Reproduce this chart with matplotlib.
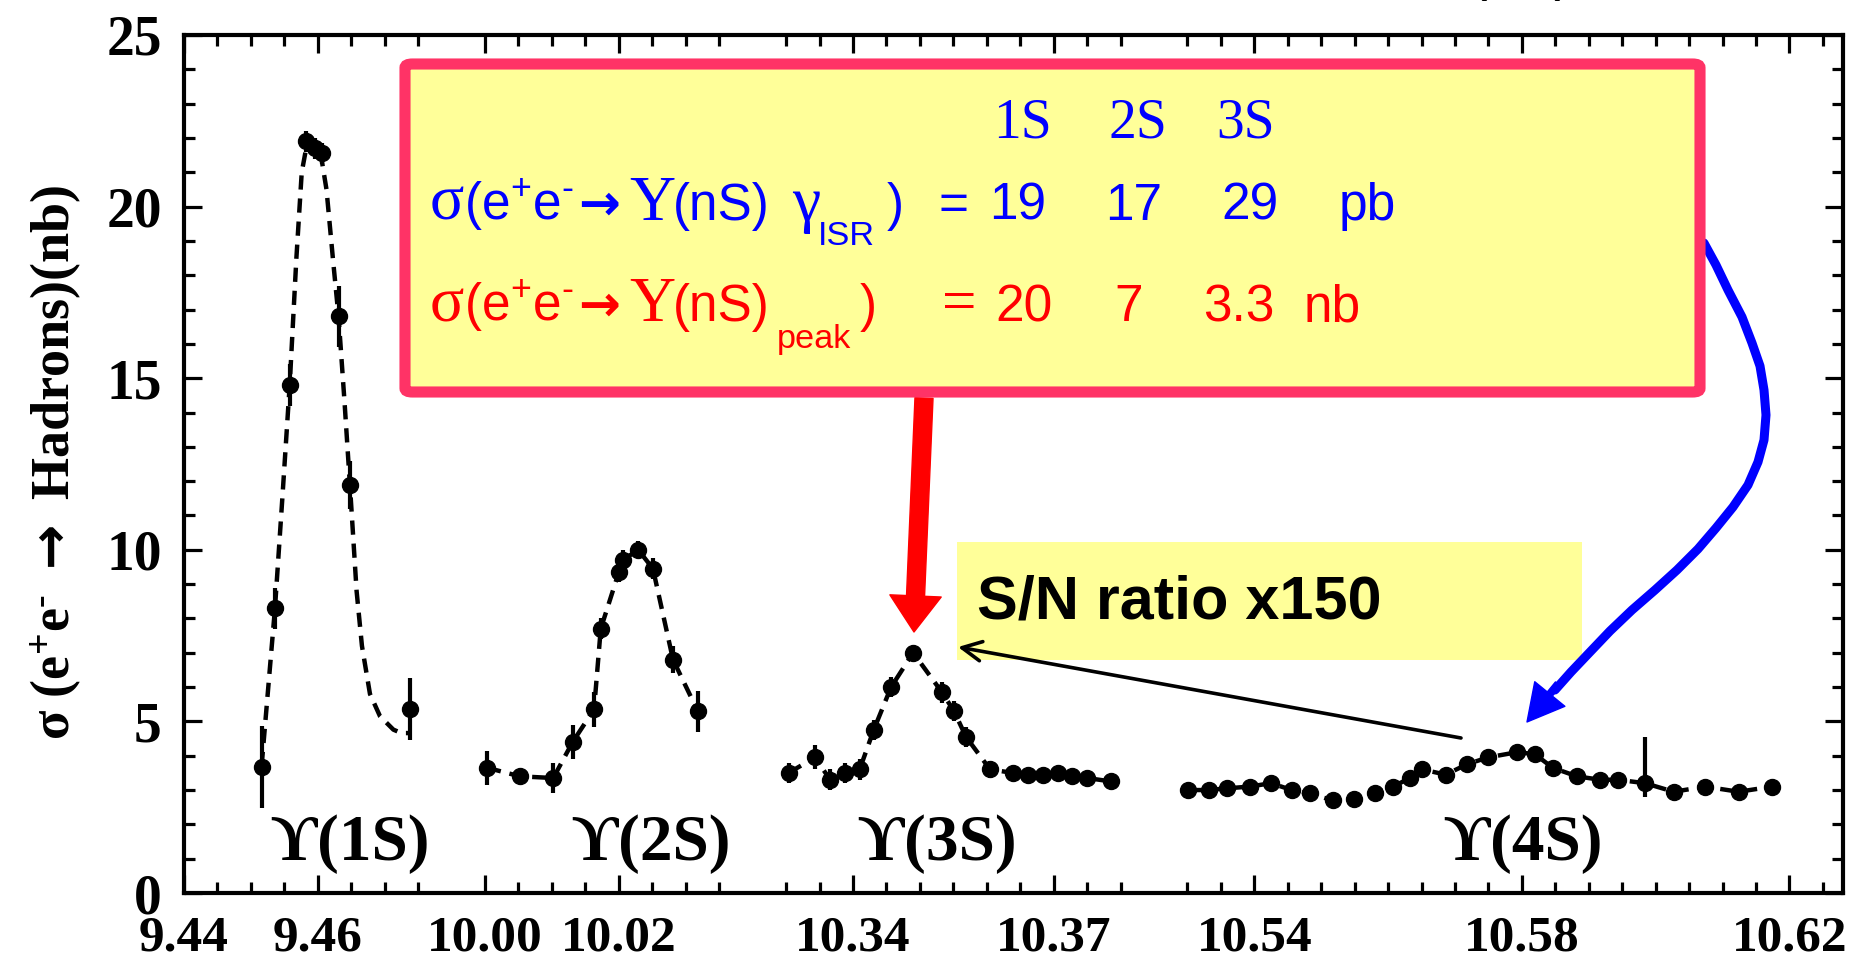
import numpy as np
import matplotlib
matplotlib.use('Agg')
import matplotlib.pyplot as plt
from matplotlib import font_manager
from matplotlib.patches import FancyBboxPatch, Rectangle, FancyArrowPatch, ArrowStyle
from matplotlib.lines import Line2D
from matplotlib.ticker import FixedLocator

# ---------------- data ----------------
# broken x axis: each resonance scan lives in its own energy window (GeV)
seg_shift = [0.0, 0.515, 0.80, 0.94]          # energy offset removed in each window
seg_lo = [9.44, 10.00, 10.33, 10.53]           # first minor tick of each window
seg_hi = [9.475, 10.035, 10.38, 10.625]        # last minor tick of each window

xtick_E = [9.44, 9.46, 10.00, 10.02, 10.34, 10.37, 10.54, 10.58, 10.62]
xtick_seg = [0, 0, 1, 1, 2, 2, 3, 3, 3]
xtick_labels = ['9.44', '9.46', '10.00', '10.02', '10.34', '10.37', '10.54', '10.58', '10.62']
ytick_vals = [0, 5, 10, 15, 20, 25]

# Y(1S)
E_1S = [9.4516, 9.4536, 9.4558, 9.4583, 9.4596, 9.4606, 9.4631, 9.4648, 9.4738]
s_1S = [3.68, 8.3, 14.8, 21.9, 21.7, 21.55, 16.8, 11.9, 5.36]
e_1S = [1.2, 0.6, 0.6, 0.3, 0.3, 0.3, 0.9, 0.7, 0.9]
fitE_1S = [9.4516, 9.4526, 9.4536, 9.4547, 9.4558, 9.4568, 9.4576, 9.4585, 9.4603,
           9.4613, 9.4623, 9.4631, 9.4640, 9.4648, 9.4658, 9.4666, 9.4678, 9.4693,
           9.4713, 9.4725, 9.4738]
fits_1S = [3.7, 6.0, 8.3, 11.5, 14.8, 18.5, 21.0, 21.95, 21.7,
           20.5, 18.4, 16.8, 14.3, 11.9, 8.8, 7.2, 5.8, 5.15,
           4.76, 4.66, 4.66]

# Y(2S)
E_2S = [10.0003, 10.0052, 10.0102, 10.0131, 10.0163, 10.0173, 10.0200, 10.0206,
        10.0229, 10.0251, 10.0281, 10.0318]
s_2S = [3.65, 3.4, 3.35, 4.4, 5.35, 7.7, 9.35, 9.7, 10.0, 9.45, 6.8, 5.3]
e_2S = [0.5, 0.15, 0.45, 0.5, 0.5, 0.3, 0.3, 0.3, 0.25, 0.3, 0.4, 0.6]

# Y(3S)
E_3S = [10.3304, 10.3343, 10.3366, 10.3388, 10.3410, 10.3431, 10.3457, 10.3490,
        10.3533, 10.3551, 10.3569, 10.3605, 10.3639, 10.3662, 10.3684, 10.3706,
        10.3727, 10.3750, 10.3786]
s_3S = [3.5, 3.95, 3.3, 3.5, 3.6, 4.75, 6.0, 7.0, 5.85, 5.3, 4.55, 3.6, 3.5,
        3.45, 3.45, 3.5, 3.4, 3.35, 3.25]
e_3S = [0.3, 0.35, 0.3, 0.3, 0.3, 0.3, 0.3, 0.2, 0.3, 0.3, 0.3, 0.25, 0.2,
        0.2, 0.2, 0.2, 0.2, 0.2, 0.2]

# Y(4S)
E_4S = [10.5301, 10.5332, 10.5359, 10.5393, 10.5425, 10.5456, 10.5483, 10.5517,
        10.5549, 10.5580, 10.5607, 10.5633, 10.5651, 10.5686, 10.5718, 10.5749,
        10.5792, 10.5819, 10.5846, 10.5882, 10.5917, 10.5943, 10.5984, 10.6027,
        10.6074, 10.6124, 10.6174]
s_4S = [3.0, 3.0, 3.05, 3.1, 3.2, 3.0, 2.9, 2.7, 2.75, 2.9, 3.1, 3.35, 3.6, 3.45,
        3.75, 3.95, 4.1, 4.05, 3.65, 3.4, 3.3, 3.3, 3.2, 2.95, 3.1, 2.95, 3.1]
elo_4S = [0.15, 0.15, 0.15, 0.15, 0.2, 0.15, 0.15, 0.2, 0.2, 0.2, 0.2, 0.2, 0.2, 0.2,
          0.2, 0.2, 0.2, 0.2, 0.2, 0.2, 0.2, 0.2, 0.4, 0.2, 0.2, 0.2, 0.2]
ehi_4S = [0.15, 0.15, 0.15, 0.15, 0.2, 0.15, 0.15, 0.2, 0.2, 0.2, 0.2, 0.2, 0.2, 0.2,
          0.2, 0.2, 0.2, 0.2, 0.2, 0.2, 0.2, 0.2, 1.35, 0.2, 0.2, 0.2, 0.2]

peak_names = ['ϒ(1S)', 'ϒ(2S)', 'ϒ(3S)', 'ϒ(4S)']
peak_label_E = [9.4648, 10.0248, 10.3526, 10.5801]

states = ['1S', '2S', '3S']
isr_values = ['19', '17', '29']
peak_values = ['20', '7', '3.3']

# ---------------- style ----------------
W, H = 1858, 960
names = {f.name for f in font_manager.fontManager.ttflist}
if 'Liberation Sans Narrow' in names:
    NARROW, NS = 'Liberation Sans Narrow', 1.0
else:
    NARROW, NS = 'Liberation Sans', 0.84
SERIF = ['Liberation Serif', 'DejaVu Serif']
SANS = [NARROW, 'Liberation Sans', 'DejaVu Sans']
plt.rcParams['font.family'] = SERIF
plt.rcParams['mathtext.default'] = 'regular'

fig = plt.figure(figsize=(W / 100, H / 100), dpi=100)
fig.patch.set_facecolor('white')
ax = fig.add_axes([184 / W, 1 - 893 / H, (1843 - 184) / W, (893 - 35) / H])
ax.set_xlim(9.44, 9.688)
ax.set_ylim(0, 25)


def to_u(E, seg):
    return np.asarray(E) - seg_shift[seg]


def fp(x, y):
    """figure-pixel (top-left origin) -> figure fraction"""
    return (x / W, 1 - y / H)


dash = (0, (3.2, 2.0))
lw_d = 3.2
mk = dict(fmt='o', color='black', ms=11.5, elinewidth=3.0, capsize=0, zorder=4)

# 1S: fit curve + points
ax.plot(to_u(fitE_1S, 0), fits_1S, color='black', lw=lw_d, ls=dash, zorder=3)
ax.errorbar(to_u(E_1S, 0), s_1S, yerr=e_1S, **mk)
# 2S, 3S
for E, s, e, k in [(E_2S, s_2S, e_2S, 1), (E_3S, s_3S, e_3S, 2)]:
    ax.plot(to_u(E, k), s, color='black', lw=lw_d, ls=dash, zorder=3)
    ax.errorbar(to_u(E, k), s, yerr=e, **mk)
# 4S
ax.plot(to_u(E_4S, 3), s_4S, color='black', lw=lw_d, ls=dash, zorder=3)
ax.errorbar(to_u(E_4S, 3), s_4S, yerr=[elo_4S, ehi_4S], **mk)

# resonance labels
for name, E, k in zip(peak_names, peak_label_E, range(4)):
    ax.text(E - seg_shift[k], 0.96, name, ha='center', va='baseline',
            fontsize=47, fontweight='bold', family=SERIF, zorder=5)

# ---------------- axes ----------------
ax.set_xticks([E - seg_shift[k] for E, k in zip(xtick_E, xtick_seg)])
ax.set_xticklabels(xtick_labels)
minor = []
for k in range(4):
    n = int(round((seg_hi[k] - seg_lo[k]) / 0.005))
    minor += [seg_lo[k] + 0.005 * i - seg_shift[k] for i in range(n + 1)]
ax.xaxis.set_minor_locator(FixedLocator(minor))
ax.set_yticks(ytick_vals)
ax.yaxis.set_minor_locator(FixedLocator(np.arange(0, 26, 1)))
ax.tick_params(which='both', direction='in', top=True, right=True, width=2.3, color='black')
ax.tick_params(which='major', length=13)
ax.tick_params(which='minor', length=8)
ax.tick_params(axis='x', which='major', pad=16)
ax.tick_params(axis='y', which='major', pad=16)
for lab in ax.get_xticklabels():
    lab.set_fontsize(37); lab.set_fontweight('bold'); lab.set_family(SERIF)
for lab in ax.get_yticklabels():
    lab.set_fontsize(40); lab.set_fontweight('bold'); lab.set_family(SERIF)
for sp in ax.spines.values():
    sp.set_linewidth(3.0)

fig.text(*fp(56, 462), 'σ (e$^{+}$e$^{‐}$ $\\mathbf{\\rightarrow}$ Hadrons)(nb)', rotation=90,
         ha='center', va='center', fontsize=39, fontweight='bold', family=SERIF)

# partially visible heading at the very top
fig.text(*fp(1521, -11), '(4S)', ha='center', va='baseline', fontsize=40, family=SANS)

# ---------------- annotation box ----------------
box = FancyBboxPatch(fp(405, 392), (1700 - 405) / W, (392 - 64) / H,
                     boxstyle='round,pad=0,rounding_size=0.004',
                     transform=fig.transFigure, facecolor='#FFFF99', edgecolor='#FF3366',
                     linewidth=8, zorder=6)
fig.patches.append(box)

BLUE, RED = '#0000FF', '#FF0000'
zt = 7


def piece(x, y, s, color, fam, size, **kw):
    fig.text(*fp(x, y), s, color=color, family=fam, fontsize=size, ha='left',
             va='baseline', zorder=zt, **kw)


# header row
for st, x in zip(states, [993, 1109, 1216]):
    piece(x, 137, st, BLUE, SERIF, 40)

sz = 44 * NS
for y, col, sub, subx, subdy, closex, eqfam, vals, xs, unit, unitx in [
        (220, BLUE, 'ISR', 818, 25, 887, SANS, isr_values, [989, 1105, 1221], 'pb', 1339),
        (321, RED, 'peak', 777, 27, 860, SERIF, peak_values, [995, 1114, 1203], 'nb', 1304)]:
    piece(430, y, 'σ', col, SERIF, 46)
    piece(464, y, '(e$^{+}$e$^{‐}$', col, SANS, sz)
    piece(578, y, '→', col, ['DejaVu Sans'], 36, fontweight='bold')
    piece(629, y, 'Υ', col, SERIF, 46)
    piece(673, y, '(nS)', col, SANS, sz)
    if sub == 'ISR':
        piece(792, y, 'γ', col, SERIF, 46)
    piece(subx, y + subdy, sub, col, SANS, 27 * NS + 2)
    piece(closex, y, ')', col, SANS, sz)
    piece(939 if sub == 'ISR' else 942, y, '=', col, eqfam, sz if sub == 'ISR' else 44)
    for v, x in zip(vals, xs):
        piece(x, y, v, col, SANS, sz)
    piece(unitx, y, unit, col, SANS, sz)

# S/N box
fig.patches.append(Rectangle(fp(957, 660), (1582 - 957) / W, (660 - 542) / H,
                             transform=fig.transFigure, facecolor='#FFFF99', edgecolor='none',
                             zorder=2))
fig.text(*fp(977, 618), 'S/N ratio x150', ha='left', va='baseline', fontsize=44,
         fontweight='bold', family=['Liberation Sans', 'DejaVu Sans'], zorder=3)

# red arrow
fig.patches.append(FancyArrowPatch(fp(924, 398), fp(914, 632), transform=fig.transFigure,
                                   arrowstyle=ArrowStyle.Simple(head_length=26, head_width=37,
                                                                tail_width=13),
                                   mutation_scale=1, color=RED, shrinkA=0, shrinkB=0, zorder=5))

# blue curved arrow
bx = [1704, 1716, 1728, 1742, 1752, 1760, 1764, 1766, 1764, 1758, 1748, 1733, 1716, 1698,
      1677, 1655, 1632, 1610, 1590, 1571, 1555]
by = [243, 265, 290, 317, 343, 366, 390, 415, 440, 462, 485, 507, 528, 549,
      570, 590, 610, 631, 652, 672, 690]
fig.add_artist(Line2D([x / W for x in bx], [1 - y / H for y in by], transform=fig.transFigure,
                      color=BLUE, lw=6.5, solid_capstyle='round', solid_joinstyle='round',
                      zorder=5))
fig.patches.append(FancyArrowPatch(fp(1558, 684), fp(1527, 722), transform=fig.transFigure,
                                   arrowstyle=ArrowStyle.Simple(head_length=26, head_width=28,
                                                                tail_width=4.7),
                                   mutation_scale=1, color=BLUE, shrinkA=0, shrinkB=0, zorder=5))

# thin black arrow to the 3S peak
fig.patches.append(FancyArrowPatch(fp(1461, 738), fp(958, 647), transform=fig.transFigure,
                                   arrowstyle=ArrowStyle('->', head_length=14, head_width=7),
                                   mutation_scale=1, color='black', lw=2.6, shrinkA=0,
                                   shrinkB=0, zorder=5))

fig.savefig('out.png', dpi=100, facecolor='white')
